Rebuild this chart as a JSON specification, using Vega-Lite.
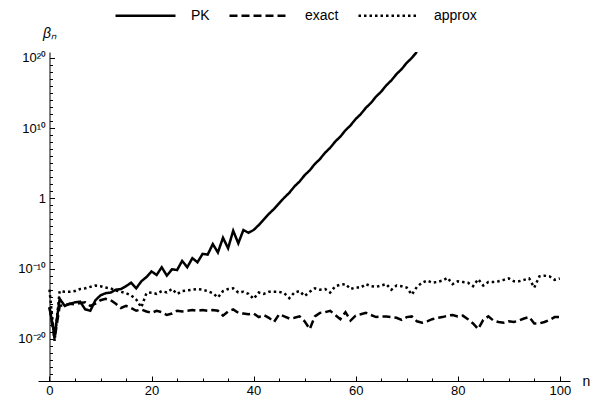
{
"$schema": "https://vega.github.io/schema/vega-lite/v6.json",
"width": 532, "height": 329,
"autosize": {"type": "none"},
"padding": {"left": 38, "top": 52, "right": 22, "bottom": 23},
"config": {"view": {"stroke": null}, "font": "Liberation Sans"},
"data": {"values": [
{"n":0,"PK":3.16e-16,"exact":3.16e-16,"approx":1e-13},
{"n":1,"PK":3.16e-20,"exact":1e-20,"approx":5.01e-21},
{"n":2,"PK":5.01e-15,"exact":5.01e-16,"approx":6.31e-14},
{"n":3,"PK":5.01e-16,"exact":6.31e-16,"approx":5.01e-14},
{"n":4,"PK":1e-15,"exact":1e-15,"approx":5.01e-14},
{"n":5,"PK":1.58e-15,"exact":7.94e-16,"approx":6.31e-14},
{"n":6,"PK":2.0e-15,"exact":1.26e-15,"approx":1.26e-13},
{"n":7,"PK":1.58e-16,"exact":1.58e-15,"approx":1.58e-13},
{"n":8,"PK":1e-16,"exact":5.01e-16,"approx":2.51e-13},
{"n":9,"PK":3.16e-15,"exact":1e-15,"approx":3.98e-13},
{"n":10,"PK":1.58e-14,"exact":3.16e-15,"approx":3.16e-13},
{"n":11,"PK":3.16e-14,"exact":5.01e-15,"approx":2.0e-13},
{"n":12,"PK":3.98e-14,"exact":3.16e-15,"approx":1.58e-13},
{"n":13,"PK":1e-13,"exact":1e-15,"approx":7.94e-14},
{"n":14,"PK":1.26e-13,"exact":2.51e-16,"approx":5.01e-14},
{"n":15,"PK":3.16e-13,"exact":5.01e-16,"approx":3.16e-14},
{"n":16,"PK":1e-12,"exact":2.51e-16,"approx":1.58e-14},
{"n":17,"PK":1.58e-13,"exact":1e-16,"approx":3.98e-15},
{"n":18,"PK":1.58e-12,"exact":1.58e-16,"approx":3.16e-16},
{"n":19,"PK":6.31e-12,"exact":7.94e-17,"approx":3.16e-14},
{"n":20,"PK":3.98e-11,"exact":5.01e-17,"approx":3.98e-14},
{"n":21,"PK":1.26e-11,"exact":1e-16,"approx":2.51e-14},
{"n":22,"PK":1.58e-10,"exact":6.31e-17,"approx":6.31e-14},
{"n":23,"PK":1e-11,"exact":2.51e-17,"approx":3.98e-14},
{"n":24,"PK":7.94e-11,"exact":3.98e-17,"approx":1.26e-13},
{"n":25,"PK":6.31e-11,"exact":1e-16,"approx":2.51e-14},
{"n":26,"PK":1.26e-9,"exact":7.94e-17,"approx":6.31e-14},
{"n":27,"PK":1.58e-10,"exact":1e-16,"approx":7.94e-14},
{"n":28,"PK":3.16e-9,"exact":1.26e-16,"approx":1e-13},
{"n":29,"PK":7.94e-10,"exact":1e-16,"approx":1.26e-13},
{"n":30,"PK":1.26e-8,"exact":1.26e-16,"approx":1e-13},
{"n":31,"PK":1e-8,"exact":1e-16,"approx":6.31e-14},
{"n":32,"PK":3.16e-7,"exact":1.26e-16,"approx":3.16e-14},
{"n":33,"PK":2.0e-8,"exact":1e-16,"approx":7.94e-15},
{"n":34,"PK":2.51e-6,"exact":2.0e-17,"approx":6.31e-14},
{"n":35,"PK":7.94e-8,"exact":7.94e-17,"approx":1.26e-13},
{"n":36,"PK":2.51e-5,"exact":1.58e-16,"approx":1.58e-13},
{"n":37,"PK":3.98e-7,"exact":5.01e-17,"approx":3.98e-14},
{"n":38,"PK":3.16e-5,"exact":3.98e-17,"approx":5.01e-14},
{"n":39,"PK":1.26e-5,"exact":3.16e-17,"approx":2.51e-14},
{"n":40,"PK":3.16e-5,"exact":3.98e-17,"approx":5.01e-15},
{"n":41,"PK":1.58e-4,"exact":1.26e-17,"approx":3.98e-14},
{"n":42,"PK":1e-3,"exact":2.51e-17,"approx":2.51e-14},
{"n":43,"PK":6.31e-3,"exact":1e-17,"approx":5.01e-14},
{"n":44,"PK":3.16e-2,"exact":2.51e-18,"approx":5.01e-14},
{"n":45,"PK":0.2,"exact":3.16e-17,"approx":5.01e-14},
{"n":46,"PK":1.26,"exact":1.58e-17,"approx":3.16e-14},
{"n":47,"PK":6.31,"exact":7.94e-18,"approx":6.31e-15},
{"n":48,"PK":50.1,"exact":1e-17,"approx":3.98e-14},
{"n":49,"PK":251,"exact":1.58e-17,"approx":6.31e-14},
{"n":50,"PK":2.0e3,"exact":3.16e-18,"approx":1.26e-14},
{"n":51,"PK":1e4,"exact":2.51e-19,"approx":5.01e-14},
{"n":52,"PK":7.94e4,"exact":1.58e-17,"approx":1.58e-13},
{"n":53,"PK":3.98e5,"exact":5.01e-17,"approx":1e-13},
{"n":54,"PK":3.16e6,"exact":6.31e-17,"approx":1.26e-13},
{"n":55,"PK":1.58e7,"exact":1e-16,"approx":3.98e-14},
{"n":56,"PK":1.26e8,"exact":2.51e-17,"approx":3.16e-13},
{"n":57,"PK":6.31e8,"exact":6.31e-18,"approx":5.01e-13},
{"n":58,"PK":5.01e9,"exact":6.31e-17,"approx":6.31e-13},
{"n":59,"PK":2.51e10,"exact":3.98e-18,"approx":1.26e-13},
{"n":60,"PK":2.0e11,"exact":2.0e-17,"approx":2.0e-13},
{"n":61,"PK":1e12,"exact":3.16e-17,"approx":2.0e-13},
{"n":62,"PK":7.94e12,"exact":5.01e-17,"approx":6.31e-13},
{"n":63,"PK":3.98e13,"exact":2.51e-17,"approx":3.16e-13},
{"n":64,"PK":3.16e14,"exact":1.26e-17,"approx":2.51e-13},
{"n":65,"PK":1.58e15,"exact":1.58e-17,"approx":3.98e-13},
{"n":66,"PK":1.26e16,"exact":1.58e-17,"approx":6.31e-13},
{"n":67,"PK":6.31e16,"exact":1.26e-17,"approx":1e-13},
{"n":68,"PK":5.01e17,"exact":1e-17,"approx":3.98e-13},
{"n":69,"PK":2.51e18,"exact":5.01e-18,"approx":3.16e-13},
{"n":70,"PK":2.0e19,"exact":1.26e-17,"approx":2.0e-13},
{"n":71,"PK":1e20,"exact":1.58e-17,"approx":2.0e-14},
{"n":72,"PK":7.41e20,"exact":3.16e-18,"approx":2.51e-13},
{"n":73,"exact":2.0e-18,"approx":1e-12},
{"n":74,"exact":3.16e-18,"approx":2.0e-12},
{"n":75,"exact":6.31e-18,"approx":1e-12},
{"n":76,"exact":1e-17,"approx":1.26e-12},
{"n":77,"exact":1.26e-17,"approx":2.0e-12},
{"n":78,"exact":2.0e-17,"approx":5.01e-12},
{"n":79,"exact":2.51e-17,"approx":6.31e-13},
{"n":80,"exact":1.58e-17,"approx":1.58e-12},
{"n":81,"exact":2.0e-17,"approx":1.26e-12},
{"n":82,"exact":6.31e-18,"approx":1e-12},
{"n":83,"exact":1.58e-18,"approx":3.16e-13},
{"n":84,"exact":2.51e-19,"approx":3.16e-12},
{"n":85,"exact":5.01e-18,"approx":3.98e-13},
{"n":86,"exact":1.58e-17,"approx":1.26e-12},
{"n":87,"exact":3.98e-18,"approx":1.26e-12},
{"n":88,"exact":2.51e-18,"approx":1.58e-12},
{"n":89,"exact":2.0e-18,"approx":2.51e-12},
{"n":90,"exact":3.16e-18,"approx":3.98e-12},
{"n":91,"exact":2.51e-18,"approx":1.58e-12},
{"n":92,"exact":3.98e-18,"approx":1.58e-12},
{"n":93,"exact":7.94e-18,"approx":2.51e-12},
{"n":94,"exact":1.26e-17,"approx":3.98e-12},
{"n":95,"exact":1.58e-18,"approx":2.0e-13},
{"n":96,"exact":1.58e-18,"approx":7.94e-12},
{"n":97,"exact":2.51e-18,"approx":1e-11},
{"n":98,"exact":5.01e-18,"approx":7.94e-12},
{"n":99,"exact":1.26e-17,"approx":2.51e-12},
{"n":100,"exact":1.26e-17,"approx":3.98e-12}
]},
"transform": [
  {"fold": ["PK", "exact", "approx"], "as": ["series", "beta"]},
  {"filter": "isValid(datum.beta) && datum.beta > 0"}
],
"mark": {"type": "line", "strokeWidth": 2.5, "clip": true, "color": "black"},
"encoding": {
  "x": {"field": "n", "type": "quantitative",
    "scale": {"domain": [-2.25, 102], "nice": false, "zero": false},
    "axis": {"values": [0,5,10,15,20,25,30,35,40,45,50,55,60,65,70,75,80,85,90,95,100],
      "labelExpr": "datum.value % 20 == 0 ? datum.label : ''",
      "tickSize": {"condition": {"test": "datum.value % 20 == 0", "value": -5}, "value": -3},
      "grid": false, "domainColor": "black", "tickColor": "black", "domainWidth": 1, "tickWidth": 1,
      "labelFontSize": 13, "labelColor": "black", "labelPadding": 8, "labelFont": "Liberation Sans",
      "title": "n", "titleFontSize": 14, "titleFontWeight": "normal", "titleColor": "black", "titleFont": "Liberation Sans",
      "titleX": 544, "titleY": 0, "titleAlign": "left", "titleBaseline": "middle", "titleAnchor": "start"}},
  "y": {"field": "beta", "type": "quantitative",
    "scale": {"type": "log", "domain": [1e-26, 7e20], "nice": false},
    "axis": {"values": [1e-26,1e-25,1e-24,1e-23,1e-22,1e-21,1e-20,1e-19,1e-18,1e-17,1e-16,1e-15,1e-14,1e-13,1e-12,1e-11,1e-10,1e-9,1e-8,1e-7,1e-6,1e-5,1e-4,1e-3,1e-2,1e-1,1,10,100,1e3,1e4,1e5,1e6,1e7,1e8,1e9,1e10,1e11,1e12,1e13,1e14,1e15,1e16,1e17,1e18,1e19,1e20],
      "labelExpr": "datum.value == 1e20 ? '10²⁰' : datum.value == 1e10 ? '10¹⁰' : datum.value == 1 ? '1' : datum.value == 1e-10 ? '10⁻¹⁰' : datum.value == 1e-20 ? '10⁻²⁰' : ''",
      "tickSize": {"condition": {"test": "datum.value == 1e20 || datum.value == 1e10 || datum.value == 1 || datum.value == 1e-10 || datum.value == 1e-20", "value": -5}, "value": -3},
      "offset": -11.5,
      "grid": false, "domainColor": "black", "tickColor": "black", "domainWidth": 1, "tickWidth": 1,
      "labelFontSize": 13, "labelColor": "black", "labelPadding": 9, "labelFont": "Liberation Sans",
      "title": "βₙ", "titleFontSize": 14, "titleFontWeight": "normal", "titleFontStyle": "italic", "titleColor": "black", "titleFont": "Liberation Sans",
      "titleAngle": 0, "titleX": 0, "titleY": -19, "titleAlign": "center", "titleBaseline": "middle"}},
  "strokeDash": {"field": "series", "type": "nominal",
    "scale": {"domain": ["PK", "exact", "approx"], "range": [[1, 0], [8, 4], [2.5, 3]]},
    "legend": {"orient": "none", "direction": "horizontal", "legendX": 76, "legendY": -68,
      "title": null, "symbolType": "stroke", "symbolSize": 3600, "symbolStrokeWidth": 2.5, "symbolStrokeColor": "black",
      "labelFontSize": 14, "labelColor": "black", "labelFont": "Liberation Sans", "labelOffset": 14, "columnPadding": 14}}
}
}
